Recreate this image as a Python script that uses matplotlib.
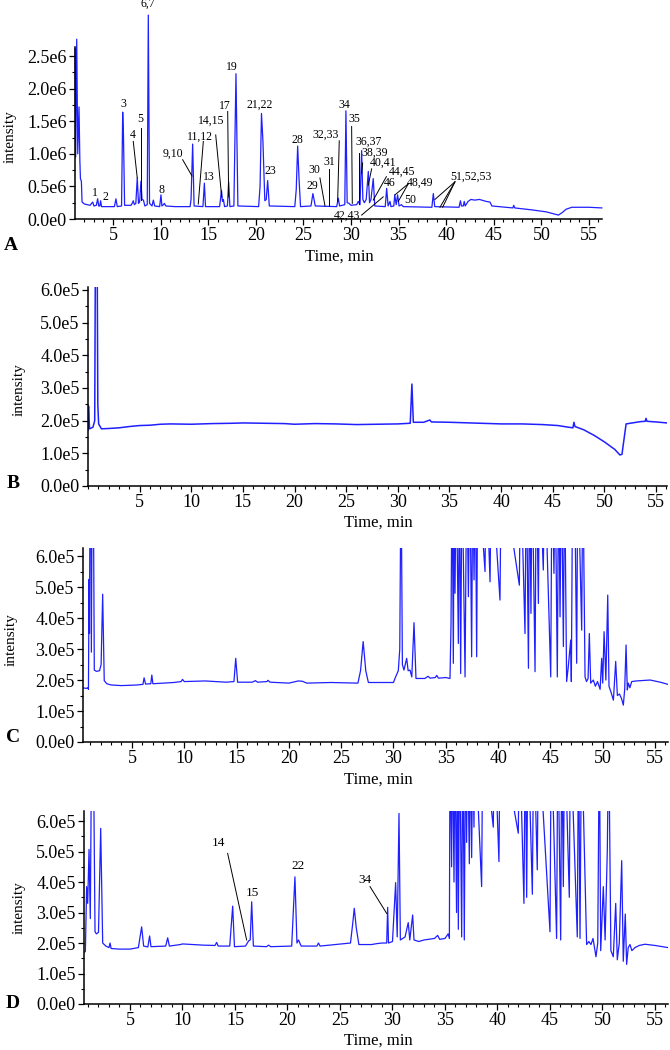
import matplotlib
matplotlib.use("Agg")
import matplotlib.pyplot as plt
from matplotlib.ticker import MultipleLocator, FuncFormatter

plt.rcParams['font.family'] = ['Liberation Serif', 'DejaVu Serif']

W, H = 670, 1050
BLUE = '#1f1fff'

# ---- traces: (time in min, intensity) ; A in 1e6 units, B-D in 1e5 units
trace_a = [
    (1.02, 2.62), (1.08, 0.95), (1.19, 2.76), (1.3, 1.0), (1.43, 1.72), (1.52, 0.9),
    (1.58, 0.62), (1.68, 0.58), (1.75, 0.26), (2.0, 0.23), (2.6, 0.21), (2.75, 0.24),
    (2.87, 0.26), (3.0, 0.2), (3.25, 0.21), (3.39, 0.31), (3.5, 0.2), (3.62, 0.2),
    (3.7, 0.28), (3.8, 0.19), (5.15, 0.19), (5.31, 0.31), (5.45, 0.19), (5.9, 0.2),
    (6.02, 1.64), (6.1, 1.3), (6.22, 0.21), (6.9, 0.21), (7.05, 0.25), (7.13, 0.28),
    (7.25, 0.22), (7.4, 0.24), (7.55, 0.63), (7.68, 0.24), (7.8, 0.26), (7.94, 0.58),
    (8.05, 0.3), (8.2, 0.29), (8.35, 0.2), (8.6, 0.22), (8.71, 3.13), (8.84, 0.24),
    (9.1, 0.2), (9.24, 0.29), (9.38, 0.2), (9.9, 0.19), (10.04, 0.37), (10.14, 0.2),
    (10.3, 0.22), (10.4, 0.24), (10.55, 0.2), (11.5, 0.19), (13.1, 0.19), (13.2, 0.3),
    (13.37, 1.15), (13.52, 0.2), (14.45, 0.19), (14.6, 0.55), (14.72, 0.19), (16.2, 0.19),
    (16.4, 0.44), (16.5, 0.27), (16.6, 0.3), (16.72, 0.19), (17.02, 0.2), (17.15, 0.57),
    (17.28, 0.19), (17.7, 0.2), (17.92, 2.23), (18.12, 0.2), (20.3, 0.19), (20.45, 0.5),
    (20.6, 1.62), (20.75, 1.2), (20.95, 0.28), (21.1, 0.3), (21.25, 0.59), (21.42, 0.2),
    (24.1, 0.19), (24.25, 0.45), (24.4, 1.12), (24.55, 0.6), (24.7, 0.19), (25.8, 0.2),
    (26.0, 0.39), (26.25, 0.2), (28.5, 0.19), (28.67, 0.32), (28.8, 0.2), (29.35, 0.22),
    (29.47, 1.66), (29.6, 0.25), (29.8, 0.24), (30.0, 0.21), (30.6, 0.22), (30.77, 0.27),
    (30.95, 0.22), (31.12, 1.05), (31.25, 0.3), (31.4, 0.25), (31.6, 0.3), (31.82, 0.73),
    (31.95, 0.25), (32.1, 0.3), (32.34, 0.62), (32.5, 0.2), (33.6, 0.19), (33.75, 0.47),
    (33.9, 0.2), (34.1, 0.27), (34.2, 0.19), (34.5, 0.2), (34.6, 0.37), (34.75, 0.22),
    (34.9, 0.37), (35.05, 0.2), (35.3, 0.22), (35.5, 0.19), (38.5, 0.18), (38.65, 0.39),
    (38.8, 0.19), (41.35, 0.18), (41.5, 0.28), (41.6, 0.2), (41.8, 0.2), (41.9, 0.27),
    (42.0, 0.2), (42.3, 0.27), (42.6, 0.3), (43.0, 0.29), (43.5, 0.3), (44.2, 0.27),
    (44.6, 0.26), (44.8, 0.2), (45.5, 0.19), (47.0, 0.17), (47.1, 0.21), (47.2, 0.17),
    (49.0, 0.14), (50.5, 0.11), (51.3, 0.08), (51.8, 0.06), (52.2, 0.1), (52.6, 0.15),
    (53.2, 0.18), (55.0, 0.18), (56.35, 0.17)]

trace_b = [
    (0.0, 1.71), (0.05, 2.45), (0.15, 1.75), (0.48, 1.8), (0.65, 2.0), (0.74, 9.0),
    (0.86, 9.0), (0.95, 2.5), (1.03, 1.9), (1.3, 1.75), (2.0, 1.76), (3.0, 1.78),
    (4.0, 1.82), (5.0, 1.85), (6.0, 1.86), (7.0, 1.89), (8.0, 1.9), (10.0, 1.89),
    (12.0, 1.91), (14.0, 1.92), (15.0, 1.93), (17.0, 1.92), (19.0, 1.91), (20.0, 1.89),
    (22.0, 1.91), (24.0, 1.9), (26.0, 1.88), (28.0, 1.89), (30.0, 1.9), (31.2, 1.92),
    (31.36, 3.12), (31.5, 1.95), (32.5, 1.95), (33.1, 2.02), (33.25, 1.96), (35.0, 1.95),
    (38.0, 1.92), (40.0, 1.9), (42.0, 1.9), (44.0, 1.88), (45.5, 1.85), (46.5, 1.8),
    (46.95, 1.78), (47.05, 1.95), (47.15, 1.82), (48.0, 1.72), (49.0, 1.55), (50.0, 1.35),
    (51.0, 1.12), (51.5, 0.95), (51.7, 0.97), (52.1, 1.9), (52.5, 1.92), (53.5, 1.97),
    (53.95, 1.98), (54.03, 2.07), (54.12, 1.98), (55.0, 1.96), (56.06, 1.93)]

trace_c = [
    (0.32, 1.75), (0.6, 1.73), (0.81, 1.75), (0.84, 1.7), (0.9, 5.25), (0.94, 3.5),
    (1.0, 9.0), (1.08, 9.0), (1.12, 2.9), (1.2, 9.0), (1.3, 9.0), (1.4, 2.32), (1.6, 2.28),
    (1.9, 2.3), (2.05, 2.5), (2.2, 4.77), (2.35, 1.98), (2.6, 1.88), (3.0, 1.84), (4.0, 1.82),
    (5.5, 1.84), (6.05, 1.86), (6.16, 2.07), (6.3, 1.87), (6.8, 1.88), (6.9, 2.16), (7.0, 1.88),
    (8.0, 1.9), (9.0, 1.92), (9.7, 1.95), (9.83, 2.02), (10.0, 1.95), (12.0, 1.97), (14.0, 1.93),
    (14.75, 1.95), (14.92, 2.7), (15.1, 1.93), (16.5, 1.93), (16.8, 1.98), (17.0, 1.93),
    (17.9, 1.95), (18.0, 1.99), (18.2, 1.93), (20.0, 1.9), (20.9, 1.97), (21.3, 1.96),
    (21.7, 1.9), (24.0, 1.92), (26.6, 1.9), (26.85, 2.3), (27.1, 3.24), (27.35, 2.3),
    (27.6, 1.92), (30.0, 1.92), (30.14, 2.05), (30.46, 2.3), (30.6, 3.0), (30.72, 9.0),
    (30.85, 2.5), (31.0, 2.32), (31.26, 2.7), (31.4, 2.3), (31.58, 2.32), (31.75, 2.1),
    (31.96, 3.85), (32.15, 2.05), (33.0, 2.05), (33.3, 2.12), (33.5, 2.06), (34.0, 2.08),
    (34.13, 2.15), (34.3, 2.06), (35.0, 2.08), (35.4, 2.05), (35.5, 3.83), (35.6, 9.0),
    (35.72, 2.54), (35.8, 9.0), (35.88, 4.8), (36.0, 9.0), (36.2, 3.18), (36.3, 9.0),
    (36.42, 2.21), (36.55, 9.0), (36.84, 2.1), (37.0, 9.0), (37.16, 4.69), (37.3, 9.0),
    (37.47, 2.75), (37.58, 9.0), (37.7, 5.23), (37.82, 9.0), (37.95, 2.75), (38.05, 9.0),
    (38.75, 5.5), (38.85, 9.0), (39.23, 5.17), (39.35, 9.0), (40.18, 4.58), (40.3, 9.0),
    (42.03, 5.06), (42.15, 9.0), (42.57, 3.5), (42.7, 9.0), (42.9, 2.38), (43.0, 9.0),
    (43.14, 4.15), (43.25, 9.0), (43.53, 2.27), (43.65, 9.0), (43.85, 4.47), (43.95, 9.0),
    (44.32, 5.55), (44.45, 9.0), (45.03, 2.1), (45.15, 9.0), (45.34, 5.44), (45.45, 9.0),
    (45.66, 2.1), (45.78, 9.0), (45.92, 4.04), (46.05, 9.0), (46.24, 3.08), (46.35, 9.0),
    (46.55, 1.95), (46.7, 2.4), (46.94, 3.29), (47.0, 1.95), (47.13, 9.0), (47.3, 9.0),
    (47.51, 2.54), (47.62, 9.0), (47.99, 3.61), (48.1, 9.0), (48.31, 2.1), (48.45, 1.95),
    (48.6, 2.05), (48.72, 3.5), (48.85, 1.9), (49.1, 2.0), (49.3, 1.8), (49.5, 1.95),
    (49.75, 1.7), (49.9, 2.7), (50.0, 1.9), (50.13, 3.56), (50.3, 2.0), (50.48, 4.74),
    (50.6, 1.8), (50.8, 1.6), (51.02, 1.35), (51.24, 2.6), (51.4, 1.5), (51.6, 1.55),
    (51.8, 1.4), (51.97, 1.19), (52.1, 1.7), (52.23, 3.13), (52.35, 1.68), (52.45, 1.9),
    (52.6, 1.75), (52.77, 1.95), (53.2, 1.97), (54.53, 2.0), (55.5, 1.93), (56.24, 1.86)]

trace_d = [
    (0.62, 1.7), (0.75, 1.72), (0.87, 3.85), (0.97, 3.3), (1.1, 5.07), (1.22, 2.8),
    (1.35, 9.0), (1.5, 9.0), (1.67, 2.37), (1.8, 2.3), (2.0, 2.35), (2.21, 5.76), (2.4, 2.0),
    (2.7, 1.9), (3.0, 1.85), (3.1, 2.0), (3.2, 1.82), (4.0, 1.8), (5.0, 1.8), (5.8, 1.85),
    (6.11, 2.53), (6.3, 1.9), (6.7, 1.87), (6.87, 2.23), (7.0, 1.88), (8.4, 1.9), (8.59, 2.17),
    (8.75, 1.9), (9.8, 1.95), (10.0, 1.97), (12.0, 1.93), (13.1, 1.92), (13.25, 2.02),
    (13.4, 1.9), (14.5, 1.9), (14.78, 3.21), (14.95, 1.88), (16.0, 1.9), (16.3, 2.07),
    (16.45, 2.1), (16.59, 3.35), (16.75, 1.9), (18.0, 1.88), (18.2, 1.93), (18.4, 1.88),
    (20.4, 1.9), (20.71, 4.17), (20.9, 2.0), (21.05, 2.1), (21.3, 1.9), (22.8, 1.9),
    (22.95, 2.0), (23.1, 1.9), (26.0, 2.0), (26.2, 2.6), (26.36, 3.14), (26.55, 2.5),
    (26.8, 1.95), (28.0, 1.95), (28.5, 1.98), (29.0, 2.0), (29.45, 2.0), (29.54, 3.17),
    (29.62, 2.0), (30.0, 2.05), (30.3, 3.98), (30.45, 2.2), (30.62, 6.25), (30.75, 2.1),
    (31.2, 2.2), (31.5, 2.67), (31.65, 2.1), (31.92, 2.92), (32.05, 2.1), (32.5, 2.05),
    (33.0, 2.1), (34.0, 2.15), (34.3, 2.25), (34.5, 2.12), (35.0, 2.15), (35.3, 2.3),
    (35.42, 2.15), (35.48, 9.0), (35.63, 4.5), (35.7, 9.0), (35.86, 4.0), (35.95, 9.0),
    (36.1, 3.0), (36.2, 9.0), (36.27, 2.45), (36.4, 9.0), (36.59, 2.2), (36.7, 9.0),
    (36.84, 2.1), (36.95, 9.0), (37.06, 5.3), (37.15, 9.0), (37.32, 4.6), (37.42, 9.0),
    (37.54, 4.8), (37.65, 9.0), (37.76, 5.8), (37.85, 9.0), (38.49, 3.85), (38.6, 9.0),
    (39.6, 5.8), (39.7, 9.0), (40.14, 4.67), (40.25, 9.0), (41.98, 5.6), (42.1, 9.0),
    (42.52, 3.3), (42.65, 9.0), (42.78, 3.5), (42.9, 9.0), (43.32, 3.6), (43.45, 9.0),
    (43.79, 4.4), (43.9, 9.0), (45.0, 2.37), (45.12, 9.0), (45.63, 2.15), (45.75, 9.0),
    (46.02, 2.1), (46.12, 9.0), (46.27, 3.85), (46.4, 9.0), (46.84, 3.5), (46.95, 9.0),
    (47.6, 2.2), (47.72, 9.0), (47.86, 2.15), (48.0, 9.0), (48.49, 1.95), (48.7, 2.05),
    (48.9, 1.95), (49.1, 2.15), (49.38, 1.55), (49.55, 2.0), (49.7, 9.0), (49.83, 1.75),
    (50.08, 3.85), (50.25, 2.1), (50.46, 5.05), (50.59, 9.0), (50.8, 1.75), (51.03, 1.55),
    (51.26, 3.3), (51.41, 1.45), (51.6, 2.0), (51.83, 4.7), (51.98, 1.4), (52.17, 2.95),
    (52.3, 1.3), (52.45, 1.85), (52.62, 1.95), (52.8, 1.75), (53.1, 1.85), (53.5, 1.92),
    (54.05, 1.96), (55.0, 1.92), (56.24, 1.85)]

# ---- peak labels: text, text pos (min, intensity units), leader segments
labels_a = [
    ("1", 3.11, 0.40, []), ("2", 4.19, 0.34, []), ("3", 6.08, 1.76, []),
    ("4", 7.03, 1.29, [(7.13, 1.19, 7.55, 0.63)]),
    ("5", 7.84, 1.54, [(7.94, 1.40, 7.94, 0.29)]),
    ("6,7", 8.71, 3.30, []), ("8", 10.12, 0.45, []),
    ("9,10", 11.33, 1.00, [(12.32, 0.91, 13.3, 0.66)]),
    ("11,12", 14.14, 1.27, [(14.49, 1.19, 13.96, 0.23)]),
    ("13", 15.08, 0.64, []),
    ("14,15", 15.37, 1.51, [(15.79, 1.29, 16.42, 0.34)]),
    ("17", 16.80, 1.73, [(17.05, 1.65, 17.15, 0.34)]),
    ("19", 17.53, 2.34, []), ("21,22", 20.37, 1.76, []), ("23", 21.57, 0.74, []),
    ("28", 24.40, 1.21, []), ("29", 25.94, 0.50, []),
    ("30", 26.15, 0.75, [(26.74, 0.63, 27.27, 0.20)]),
    ("31", 27.69, 0.88, [(27.69, 0.77, 27.69, 0.20)]),
    ("32,33", 27.37, 1.30, [(28.77, 1.20, 28.60, 0.27)]),
    ("34", 29.26, 1.75, []),
    ("35", 30.32, 1.53, [(30.07, 1.42, 30.14, 0.24)]),
    ("36,37", 31.82, 1.19, [(30.80, 1.01, 30.80, 0.23)]),
    ("38,39", 32.52, 1.02, [(31.23, 0.86, 31.12, 0.70)]),
    ("40,41", 33.33, 0.86, [(32.17, 0.77, 31.82, 0.52)]),
    ("44,45", 35.35, 0.72, [(33.72, 0.65, 32.34, 0.29)]),
    ("46", 34.09, 0.55, []),
    ("48,49", 37.25, 0.56, [(36.02, 0.54, 34.62, 0.37), (36.02, 0.54, 34.97, 0.27)]),
    ("50", 36.20, 0.29, []),
    ("42,43", 29.55, 0.05, [(31.12, 0.06, 33.39, 0.34)]),
    ("51,52,53", 42.57, 0.65, [(40.92, 0.57, 38.82, 0.30), (40.92, 0.57, 39.35, 0.18),
                               (40.92, 0.57, 39.63, 0.18)]),
]
labels_d = [
    ("14", 13.41, 5.27, [(14.3, 4.94, 16.11, 2.10)]),
    ("15", 16.65, 3.65, []), ("22", 21.03, 4.53, []),
    ("34", 27.38, 4.07, [(27.86, 3.85, 29.45, 2.97)]),
]

fig = plt.figure(figsize=(W / 100, H / 100), dpi=100)


def px_axes(left, top, right, bottom):
    return fig.add_axes([left / W, 1 - bottom / H, (right - left) / W, (bottom - top) / H])


def px_text(x, y, s, **kw):
    fig.text(x / W, 1 - y / H, s, ha='center', va='center', **kw)


def style(ax, xlim, ylim, ystep, exp):
    ax.set_xlim(*xlim)
    ax.set_ylim(*ylim)
    for s in ('top', 'right'):
        ax.spines[s].set_visible(False)
    for s in ('left', 'bottom'):
        ax.spines[s].set_linewidth(1.1)
    ax.set_xticks(range(5, 56, 5))
    ax.xaxis.set_minor_locator(MultipleLocator(1))
    ax.yaxis.set_major_locator(MultipleLocator(ystep))
    ax.yaxis.set_minor_locator(MultipleLocator(ystep / 2))
    ax.yaxis.set_major_formatter(FuncFormatter(
        lambda v, p: "0.0e0" if abs(v) < 1 else f"{v / 10 ** exp:.1f}e{exp}"))
    ax.tick_params(which='major', length=4, width=0.9, labelsize=13, pad=2)
    ax.tick_params(which='minor', length=2, width=0.8)


def draw(ax, trace, scale, clip=True, lw=0.9):
    t = [p[0] for p in trace]
    v = [p[1] * scale for p in trace]
    ax.plot(t, v, color=BLUE, lw=lw, clip_on=clip)


def annotate(ax, labels, scale, size):
    for text, tx, ty, leaders in labels:
        ax.text(tx, ty * scale, text, ha='center', va='center', fontsize=size, clip_on=False)
        for x0, y0, x1, y1 in leaders:
            ax.plot([x0, x1], [y0 * scale, y1 * scale], color='black', lw=0.7, clip_on=False)


# panel A
axA = px_axes(75, 47, 602, 219)
style(axA, (1.01, 56.37), (0, 2.64e6), 0.5e6, 6)
draw(axA, trace_a, 1e6, clip=False)
annotate(axA, labels_a, 1e6, 8.5)

# panel B
axB = px_axes(88, 287, 667, 486)
style(axB, (0, 56.06), (0, 6.09e5), 1e5, 5)
draw(axB, trace_b, 1e5, lw=1.1)

# panel C
axC = px_axes(83, 548, 668, 742)
style(axC, (0.32, 56.24), (0, 6.26e5), 1e5, 5)
draw(axC, trace_c, 1e5)

# panel D
axD = px_axes(84, 811, 668, 1004)
style(axD, (0.62, 56.24), (0, 6.33e5), 1e5, 5)
draw(axD, trace_d, 1e5)
annotate(axD, labels_d, 1e5, 9.5)

# axis titles and panel letters
for (cx, cy), (ix, iy), (lx, ly), letter in [
        ((339, 257), (10, 137), (11, 245), "A"),
        ((378, 523), (19, 390), (13, 483), "B"),
        ((378, 780), (11, 640), (13, 737), "C"),
        ((378, 1041), (19, 908), (13, 1003), "D")]:
    px_text(cx, cy, "Time, min", fontsize=12)
    px_text(ix, iy, "intensity", fontsize=11, rotation=90)
    px_text(lx, ly, letter, fontsize=14, fontweight='bold')

fig.savefig("out.png", dpi=100)
